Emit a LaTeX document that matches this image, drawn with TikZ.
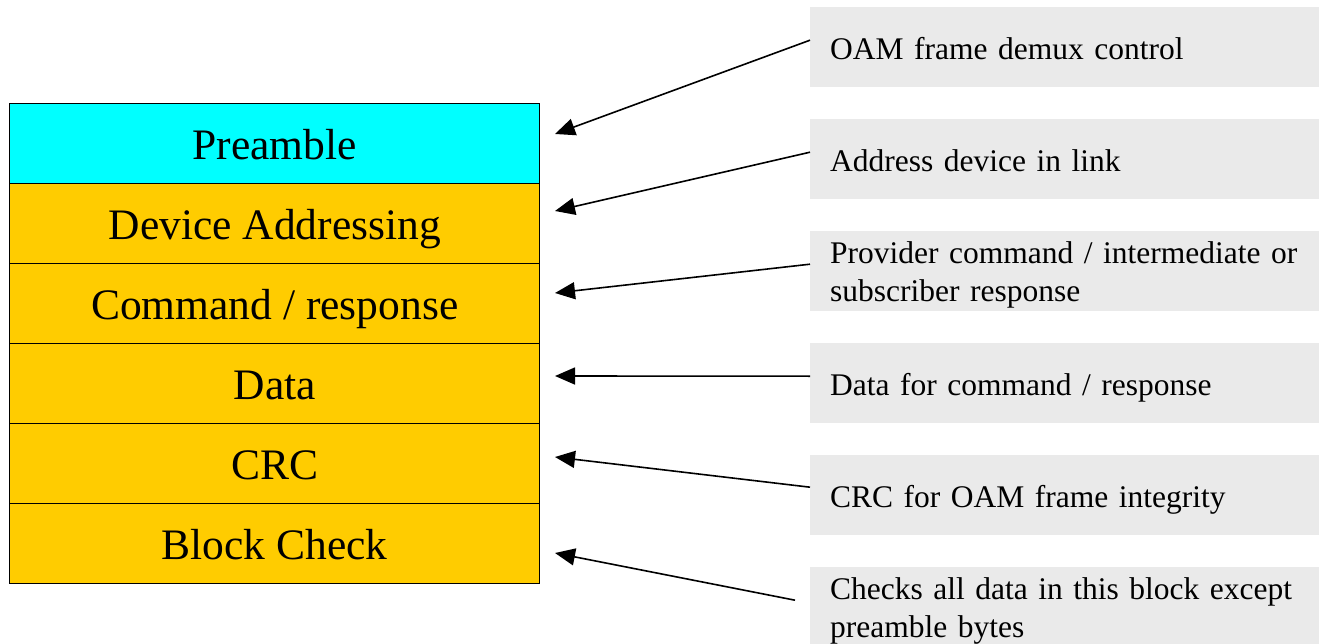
\documentclass[tikz,border=0pt]{standalone}
\usepackage{fontspec}
\setmainfont{Liberation Serif}
\usetikzlibrary{arrows.meta}
\definecolor{framecyan}{HTML}{00FFFF}
\definecolor{framegold}{HTML}{FFCC00}
\definecolor{notegray}{HTML}{EAEAEA}

\begin{document}
\begin{tikzpicture}[x=1pt,y=-1pt,
  field/.style={draw=black, line width=1.4pt, fill=framegold,
    minimum width=530pt, minimum height=80pt, inner sep=0pt,
    text height=32pt, text depth=0pt,
    anchor=north west, font=\fontsize{43.5}{50}\selectfont},
  note/.style={fill=notegray, minimum height=80pt, inner xsep=20pt,
    inner ysep=0pt, text width=480pt, align=left, anchor=north west,
    text height=24pt, text depth=0pt, font=\fontsize{31.5}{38}\selectfont},
  twoline/.style={text height=22pt, text depth=38pt},
  pointer/.style={draw=black, line width=1.6pt,
    -{Triangle[length=20pt,width=17pt]}}]

\useasboundingbox (0,0) rectangle (1319,644);

% frame fields
\node[field, fill=framecyan] (pre)  at (9,103) {Preamble};
\node[field] (addr) at (9,183) {Device Addressing};
\node[field] (cmd)  at (9,263) {Command / response};
\node[field] (data) at (9,343) {Data};
\node[field] (crc)  at (9,423) {CRC};
\node[field] (blk)  at (9,503) {Block Check};

% descriptions
\node[note] (n1) at (810,7)   {OAM frame demux control};
\node[note] (n2) at (810,119) {Address device in link};
\node[note, twoline] (n3) at (810,231) {Provider command / intermediate or\\subscriber response};
\node[note] (n4) at (810,343) {Data for command / response};
\node[note] (n5) at (810,455) {CRC for OAM frame integrity};
\node[note, twoline] (n6) at (810,567) {Checks all data in this block except\\preamble bytes};

% arrow tips beside the fields
\coordinate (t1) at (555,134);
\coordinate (t2) at (555,211);
\coordinate (t3) at (555,293);
\coordinate (t4) at (555,376);
\coordinate (t5) at (555,457);
\coordinate (t6) at (555,553);

\draw[pointer] ([yshift=7pt]n1.west) -- (t1);
\draw[pointer] ([yshift=7pt]n2.west) -- (t2);
\draw[pointer] ([yshift=7pt]n3.west) -- (t3);
\draw[pointer] ([yshift=7pt]n4.west) -- (t4);
\draw[pointer] ([yshift=8pt]n5.west) -- (t5);
\draw[pointer] ([xshift=-15pt,yshift=7pt]n6.west) -- (t6);
\end{tikzpicture}
\end{document}
